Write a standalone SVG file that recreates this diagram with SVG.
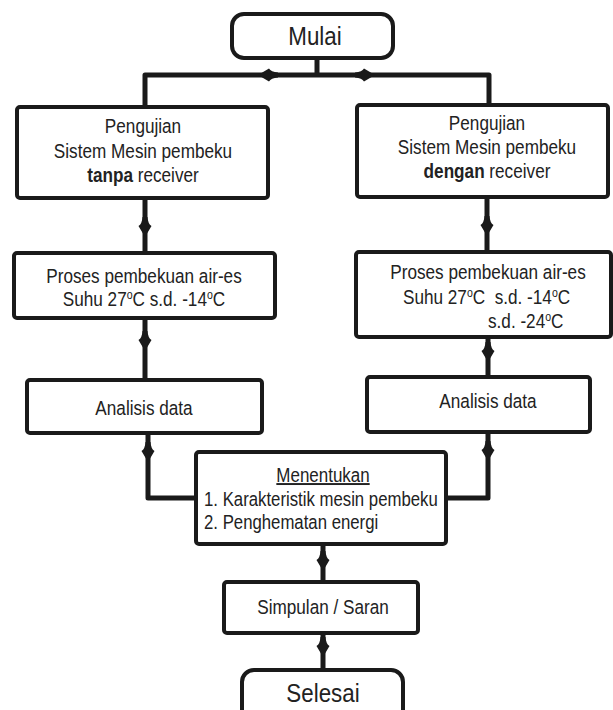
<svg xmlns="http://www.w3.org/2000/svg" width="613" height="710" viewBox="0 0 613 710">
<style>
.box{fill:#fff;stroke:#1a1a1a;stroke-width:4}
.ln{fill:none;stroke:#1a1a1a;stroke-width:5;stroke-linejoin:round}
text{font-family:"Liberation Sans",Arial,sans-serif;font-size:19.5px;fill:#222}
.big{font-size:26px}
.c{text-anchor:middle}
.sup{font-size:12px}
</style>
<defs>
<path id="ah" d="M-2.5,-11 Q-3,-4 -6.5,-2 L0,9 L6.5,-2 Q3,-4 2.5,-11 Z" fill="#1a1a1a"/>
</defs>
<rect width="613" height="710" fill="#fff"/>
<g id="connectors">
<path class="ln" d="M317,58 V75 M145,107 V75 H489 V105"/>
<path class="ln" d="M145,198 V253 M145,318 V380 M148,433 V498 H196"/>
<path class="ln" d="M487,197 V252 M488,337 V377 M488,432 V498 H446"/>
<path class="ln" d="M323,544 V582 M323,633 V670"/>
<use href="#ah" transform="translate(267,75) rotate(90)"/>
<use href="#ah" transform="translate(366,75) rotate(-90)"/>
<use href="#ah" x="145" y="228"/>
<use href="#ah" x="145" y="342"/>
<use href="#ah" x="148" y="453"/>
<use href="#ah" x="487" y="227"/>
<use href="#ah" x="488" y="353"/>
<use href="#ah" x="488" y="452"/>
<use href="#ah" x="323" y="562"/>
<use href="#ah" x="323" y="648"/>
</g>
<g id="mulai">
<rect class="box" x="232" y="14" width="161" height="44" rx="12"/>
<text class="big c" transform="translate(315,45) scale(0.86,1)">Mulai</text>
</g>
<g id="uji-tanpa">
<rect class="box" x="17" y="107" width="251" height="91" rx="3"/>
<text class="c" transform="translate(143,133) scale(0.88,1)">Pengujian</text>
<text class="c" transform="translate(143,158) scale(0.88,1)">Sistem Mesin pembeku</text>
<text class="c" transform="translate(143,182) scale(0.88,1)"><tspan font-weight="bold">tanpa</tspan> receiver</text>
</g>
<g id="uji-dengan">
<rect class="box" x="357" y="105" width="251" height="92" rx="3"/>
<text class="c" transform="translate(487,130) scale(0.88,1)">Pengujian</text>
<text class="c" transform="translate(487,154) scale(0.88,1)">Sistem Mesin pembeku</text>
<text class="c" transform="translate(487,178) scale(0.88,1)"><tspan font-weight="bold">dengan</tspan> receiver</text>
</g>
<g id="proses-kiri">
<rect class="box" x="14" y="253" width="261" height="65" rx="3"/>
<text class="c" transform="translate(144,283) scale(0.88,1)">Proses pembekuan air-es</text>
<text class="c" transform="translate(144,306) scale(0.88,1)">Suhu 27<tspan class="sup" dy="-7">o</tspan><tspan dy="7">C s.d. -14</tspan><tspan class="sup" dy="-7">o</tspan><tspan dy="7">C</tspan></text>
</g>
<g id="proses-kanan">
<rect class="box" x="356" y="252" width="255" height="85" rx="3"/>
<text class="c" transform="translate(488,279) scale(0.88,1)">Proses pembekuan air-es</text>
<text transform="translate(403,304) scale(0.88,1)" xml:space="preserve">Suhu 27<tspan class="sup" dy="-7">o</tspan><tspan dy="7">C  s.d. -14</tspan><tspan class="sup" dy="-7">o</tspan><tspan dy="7">C</tspan></text>
<text transform="translate(488,328) scale(0.88,1)">s.d. -24<tspan class="sup" dy="-7">o</tspan><tspan dy="7">C</tspan></text>
</g>
<g id="analisis-kiri">
<rect class="box" x="27" y="380" width="235" height="53" rx="3"/>
<text class="c" transform="translate(144,415) scale(0.88,1)">Analisis data</text>
</g>
<g id="analisis-kanan">
<rect class="box" x="367" y="377" width="223" height="55" rx="3"/>
<text class="c" transform="translate(488,408) scale(0.88,1)">Analisis data</text>
</g>
<g id="menentukan">
<rect class="box" x="196" y="452" width="250" height="92" rx="3"/>
<text class="c" transform="translate(323,482) scale(0.87,1)" text-decoration="underline">Menentukan</text>
<text transform="translate(204,506) scale(0.86,1)">1. Karakteristik mesin pembeku</text>
<text transform="translate(204,529) scale(0.86,1)">2. Penghematan energi</text>
</g>
<g id="simpulan">
<rect class="box" x="224" y="582" width="194" height="51" rx="3"/>
<text class="c" transform="translate(323,614) scale(0.88,1)">Simpulan / Saran</text>
</g>
<g id="selesai">
<rect class="box" x="242" y="670" width="161" height="60" rx="12"/>
<text class="big c" transform="translate(323,702) scale(0.86,1)">Selesai</text>
</g>
</svg>
